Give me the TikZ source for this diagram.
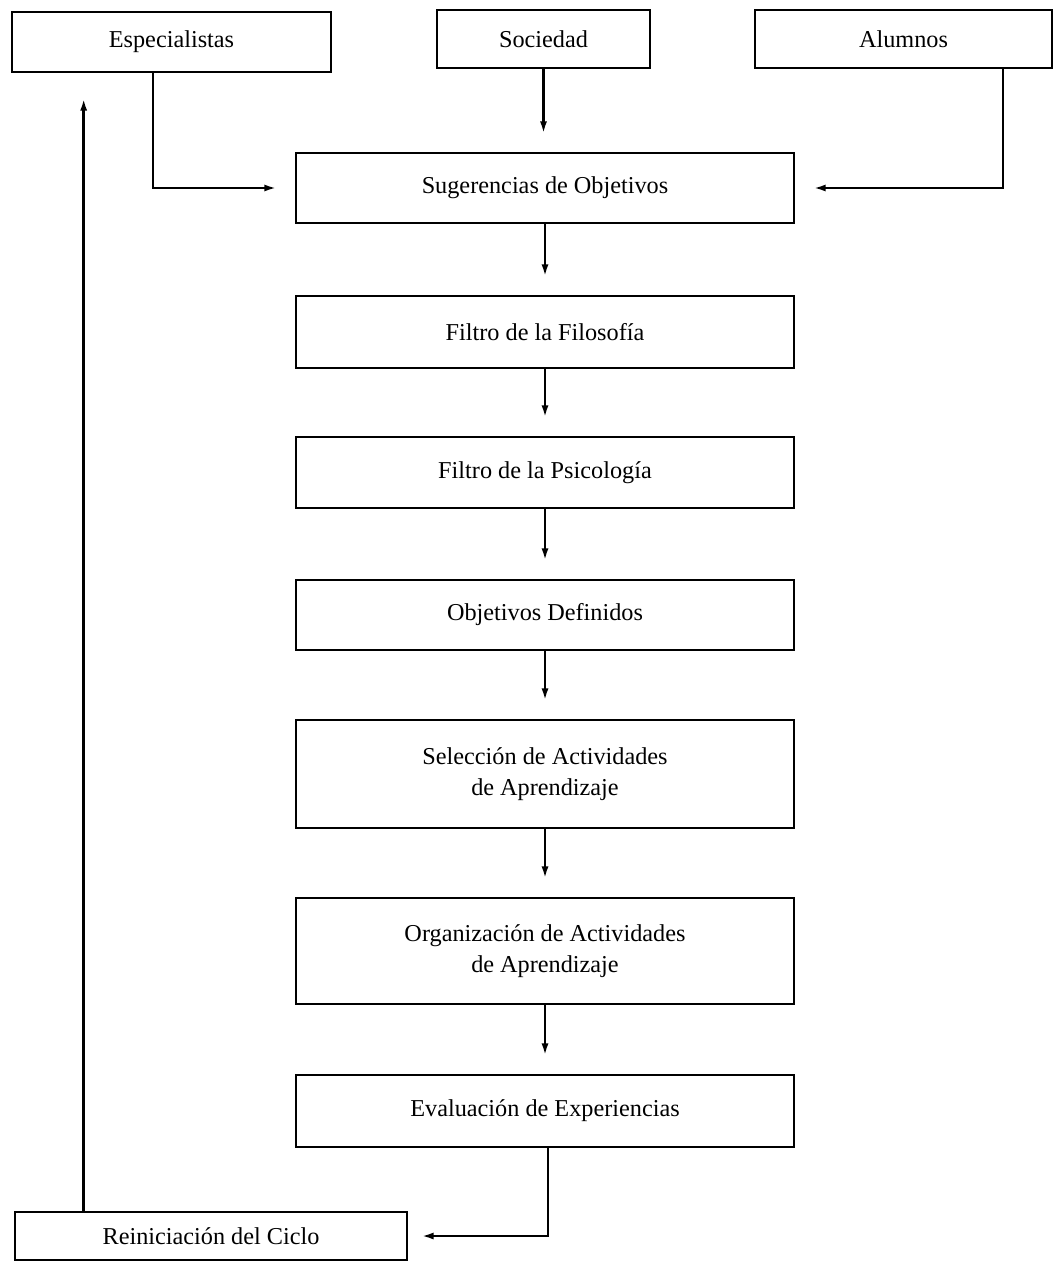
\documentclass[tikz,border=0pt]{standalone}
\usepackage{fontspec}
\setmainfont{Liberation Serif}
\usetikzlibrary{arrows.meta}

\begin{document}
\begin{tikzpicture}[
			     box/.style={draw,line width=1.5pt,inner sep=2pt,align=center,font=\fontsize{13.8}{17.5}\selectfont},
			     wide box/.style={box,minimum width=9.96cm},
			     flow/.style={line width=1.5pt,-{Latex[length=7pt,width=4pt]},shorten >=0.36cm}
			     ]
\useasboundingbox (0,0) rectangle (21.14,-25.24);
%% sources
\node[box,minimum width=6.38cm,minimum height=1.2cm] (espec) at (3.43,-0.84) {Especialistas};
\node[box,minimum width=4.26cm,minimum height=1.16cm] (socie) at (10.87,-0.78) {Sociedad};
\node[box,minimum width=5.94cm,minimum height=1.16cm] (alumn) at (18.07,-0.78) {Alumnos};
%% main column
\node[wide box,minimum height=1.4cm] (suger) at (10.9,-3.76) {Sugerencias de Objetivos};
\node[wide box,minimum height=1.44cm] (filos) at (10.9,-6.64) {Filtro de la Filosofía};
\node[wide box,minimum height=1.42cm] (psico) at (10.9,-9.45) {Filtro de la Psicología};
\node[wide box,minimum height=1.4cm] (objet) at (10.9,-12.30) {Objetivos Definidos};
\node[wide box,minimum height=2.16cm] (selec) at (10.9,-15.48) {Selección de Actividades\\ de Aprendizaje};
\node[wide box,minimum height=2.12cm] (organ) at (10.9,-19.02) {Organización de Actividades\\ de Aprendizaje};
\node[wide box,minimum height=1.44cm] (evalu) at (10.9,-22.22) {Evaluación de Experiencias};
\node[box,minimum width=7.84cm,minimum height=0.96cm] (reini) at (4.22,-24.72) {Reiniciación del Ciclo};
%% connectors
\draw[flow] ([xshift=-0.37cm]espec.south) |- (suger.west);
\draw[flow] ([xshift=1.99cm]alumn.south) |- (suger.east);
\draw[flow] (socie.south) -- (socie.south |- suger.north);
\path (suger) edge[flow] (filos);
\path (filos) edge[flow] (psico);
\path (psico) edge[flow] (objet);
\path (objet) edge[flow] (selec);
\path (selec) edge[flow] (organ);
\path (organ) edge[flow] (evalu);
\draw[flow,shorten >=0.26cm] ([xshift=0.06cm]evalu.south) |- (reini.east);
\coordinate (back) at ([xshift=1.4cm]reini.north west);
\draw[flow,shorten >=0.5cm] (back) -- (back |- espec.south);
\end{tikzpicture}
\end{document}
